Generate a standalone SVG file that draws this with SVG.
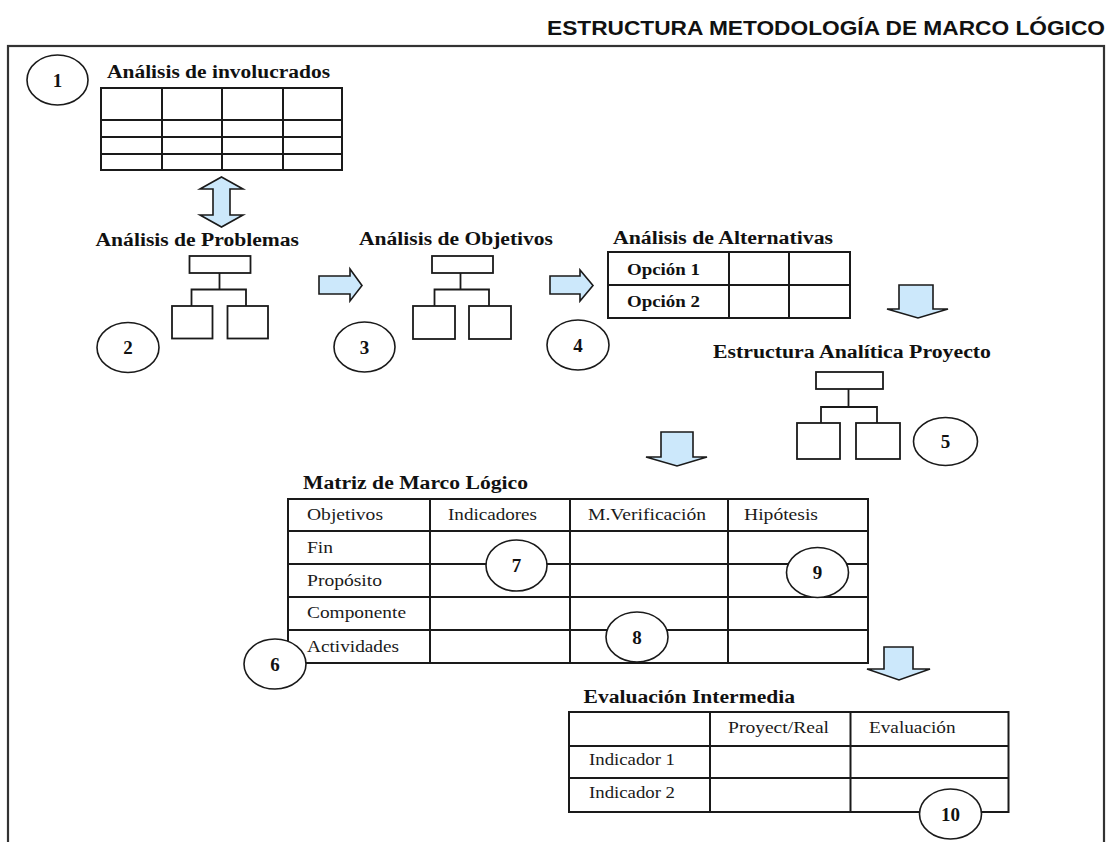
<svg xmlns="http://www.w3.org/2000/svg" width="1108" height="842" viewBox="0 0 1108 842">
<style>
.bg{fill:#ffffff}
.frame{fill:none;stroke:#333;stroke-width:2.2}
.grid{fill:none;stroke:#1a1a1a;stroke-width:2}
.box{fill:#fff;stroke:#1a1a1a;stroke-width:1.8}
.ln{fill:none;stroke:#1a1a1a;stroke-width:1.8}
.num{fill:#fff;stroke:#1a1a1a;stroke-width:1.6}
.arrow{fill:#cce8fb;stroke:#1a1a1a;stroke-width:1.6;stroke-linejoin:miter}
.h{font-family:"Liberation Serif","Times New Roman",serif;font-weight:bold;font-size:18px;fill:#111}
.t{font-family:"Liberation Serif","Times New Roman",serif;font-size:16px;fill:#1a1a1a}
.n{font-family:"Liberation Serif","Times New Roman",serif;font-weight:bold;font-size:19px;fill:#111;text-anchor:middle}
.title{font-family:"Liberation Sans",Arial,sans-serif;font-weight:bold;font-size:21px;fill:#111}
</style>
<rect class="bg" x="0" y="0" width="1108" height="842"/>
<text class="title" x="547" y="35" textLength="558" lengthAdjust="spacingAndGlyphs">ESTRUCTURA METODOLOGÍA DE MARCO LÓGICO</text>
<rect class="frame" x="8" y="46" width="1096" height="830"/>

<g id="connectors">
  <polygon class="arrow" points="221.5,177 243,189 230,189 230,215 243,215 221.5,227 200,215 213,215 213,189 200,189"/>
  <polygon class="arrow" points="319,276 350,276 350,269 362,285.5 350,301 350,294 319,294"/>
  <polygon class="arrow" points="550,276 580,276 580,270 593,285.5 580,301 580,294 550,294"/>
  <polygon class="arrow" points="899,285 933,285 933,309 948,309 918,318 887,309 899,309"/>
  <polygon class="arrow" points="661,432 693,432 693,457 707,457 677,466 646,457 661,457"/>
  <polygon class="arrow" points="884,647 913,647 913,669 930,669 899,680 867,669 884,669"/>
</g>

<g id="n1-involucrados">
  <text class="h" x="107" y="78" textLength="223" lengthAdjust="spacingAndGlyphs">Análisis de involucrados</text>
  <rect class="grid" x="101" y="88" width="241" height="82"/>
  <path class="grid" d="M162,88V170M222,88V170M283,88V170M101,120H342M101,137H342M101,154H342"/>
  <ellipse class="num" cx="57.5" cy="80" rx="30.5" ry="25"/>
  <text class="n" x="57.5" y="86.5">1</text>
</g>

<g id="n2-problemas">
  <text class="h" x="95.5" y="246" textLength="203.5" lengthAdjust="spacingAndGlyphs">Análisis de Problemas</text>
  <rect class="box" x="189.5" y="256" width="61" height="17"/>
  <path class="ln" d="M219.5,273V289.5M191.5,306V289.5H246V306"/>
  <rect class="box" x="172" y="306" width="40.5" height="32.5"/>
  <rect class="box" x="227.5" y="306" width="40.5" height="32.5"/>
  <ellipse class="num" cx="128" cy="347.5" rx="31" ry="25"/>
  <text class="n" x="128" y="354">2</text>
</g>

<g id="n3-objetivos">
  <text class="h" x="359" y="245" textLength="194" lengthAdjust="spacingAndGlyphs">Análisis de Objetivos</text>
  <rect class="box" x="432" y="256" width="61" height="17"/>
  <path class="ln" d="M460.5,273V289.5M434.5,306V289.5H489V306"/>
  <rect class="box" x="413" y="306" width="42" height="33"/>
  <rect class="box" x="469" y="306" width="42" height="33"/>
  <ellipse class="num" cx="364.5" cy="347" rx="30.5" ry="25"/>
  <text class="n" x="364.5" y="353.5">3</text>
</g>

<g id="n4-alternativas">
  <text class="h" x="613" y="244" textLength="220" lengthAdjust="spacingAndGlyphs">Análisis de Alternativas</text>
  <rect class="grid" x="608" y="252" width="242" height="66"/>
  <path class="grid" d="M608,285H850M729,252V318M789,252V318"/>
  <text class="h" x="627" y="274.5" style="font-size:16.5px" textLength="73" lengthAdjust="spacingAndGlyphs">Opción 1</text>
  <text class="h" x="627" y="307" style="font-size:16.5px" textLength="73" lengthAdjust="spacingAndGlyphs">Opción 2</text>
  <ellipse class="num" cx="578" cy="345" rx="31" ry="25"/>
  <text class="n" x="578" y="351.5">4</text>
</g>

<g id="n5-estructura">
  <text class="h" x="713" y="358" textLength="278" lengthAdjust="spacingAndGlyphs">Estructura Analítica Proyecto</text>
  <rect class="box" x="816" y="372" width="67" height="17"/>
  <path class="ln" d="M848.5,389V407M821,423V407H877V423"/>
  <rect class="box" x="797" y="423" width="43" height="36"/>
  <rect class="box" x="856" y="423" width="44" height="36"/>
  <ellipse class="num" cx="945.5" cy="441.5" rx="32" ry="24"/>
  <text class="n" x="945.5" y="448">5</text>
</g>

<g id="n6-matriz">
  <text class="h" x="303" y="489" textLength="225" lengthAdjust="spacingAndGlyphs">Matriz de Marco Lógico</text>
  <rect class="grid" x="288" y="499" width="580" height="164"/>
  <path class="grid" d="M288,531H868M288,564H868M288,597H868M288,630H868M430,499V663M570,499V663M728,499V663"/>
  <text class="t" x="307" y="520" textLength="76" lengthAdjust="spacingAndGlyphs">Objetivos</text>
  <text class="t" x="448" y="520" textLength="89" lengthAdjust="spacingAndGlyphs">Indicadores</text>
  <text class="t" x="588" y="520" textLength="118" lengthAdjust="spacingAndGlyphs">M.Verificación</text>
  <text class="t" x="744" y="520" textLength="74" lengthAdjust="spacingAndGlyphs">Hipótesis</text>
  <text class="t" x="307" y="553" textLength="26" lengthAdjust="spacingAndGlyphs">Fin</text>
  <text class="t" x="307" y="586" textLength="75" lengthAdjust="spacingAndGlyphs">Propósito</text>
  <text class="t" x="307" y="618" textLength="99" lengthAdjust="spacingAndGlyphs">Componente</text>
  <text class="t" x="307" y="652" textLength="92" lengthAdjust="spacingAndGlyphs">Actividades</text>
  <ellipse class="num" cx="275" cy="664" rx="31" ry="25"/>
  <text class="n" x="275" y="670.5">6</text>
</g>

<g id="n7">
  <ellipse class="num" cx="516.5" cy="565.5" rx="30.5" ry="25.5"/>
  <text class="n" x="516.5" y="572">7</text>
</g>

<g id="n8">
  <ellipse class="num" cx="637" cy="637" rx="31" ry="25"/>
  <text class="n" x="637" y="643.5">8</text>
</g>

<g id="n9">
  <ellipse class="num" cx="817.5" cy="572.5" rx="31" ry="25"/>
  <text class="n" x="817.5" y="579">9</text>
</g>

<g id="n10-evaluacion">
  <text class="h" x="583.5" y="703" textLength="211.5" lengthAdjust="spacingAndGlyphs">Evaluación Intermedia</text>
  <rect class="grid" x="569" y="712" width="439.5" height="100"/>
  <path class="grid" d="M569,746H1008.5M569,778H1008.5M710,712V812M850.5,712V812"/>
  <text class="t" x="728" y="733" textLength="101" lengthAdjust="spacingAndGlyphs">Proyect/Real</text>
  <text class="t" x="869" y="733" textLength="86.5" lengthAdjust="spacingAndGlyphs">Evaluación</text>
  <text class="t" x="589" y="765" textLength="86" lengthAdjust="spacingAndGlyphs">Indicador 1</text>
  <text class="t" x="589" y="798" textLength="86" lengthAdjust="spacingAndGlyphs">Indicador 2</text>
  <ellipse class="num" cx="950.5" cy="814" rx="31" ry="25"/>
  <text class="n" x="950.5" y="820.5">10</text>
</g>
</svg>
